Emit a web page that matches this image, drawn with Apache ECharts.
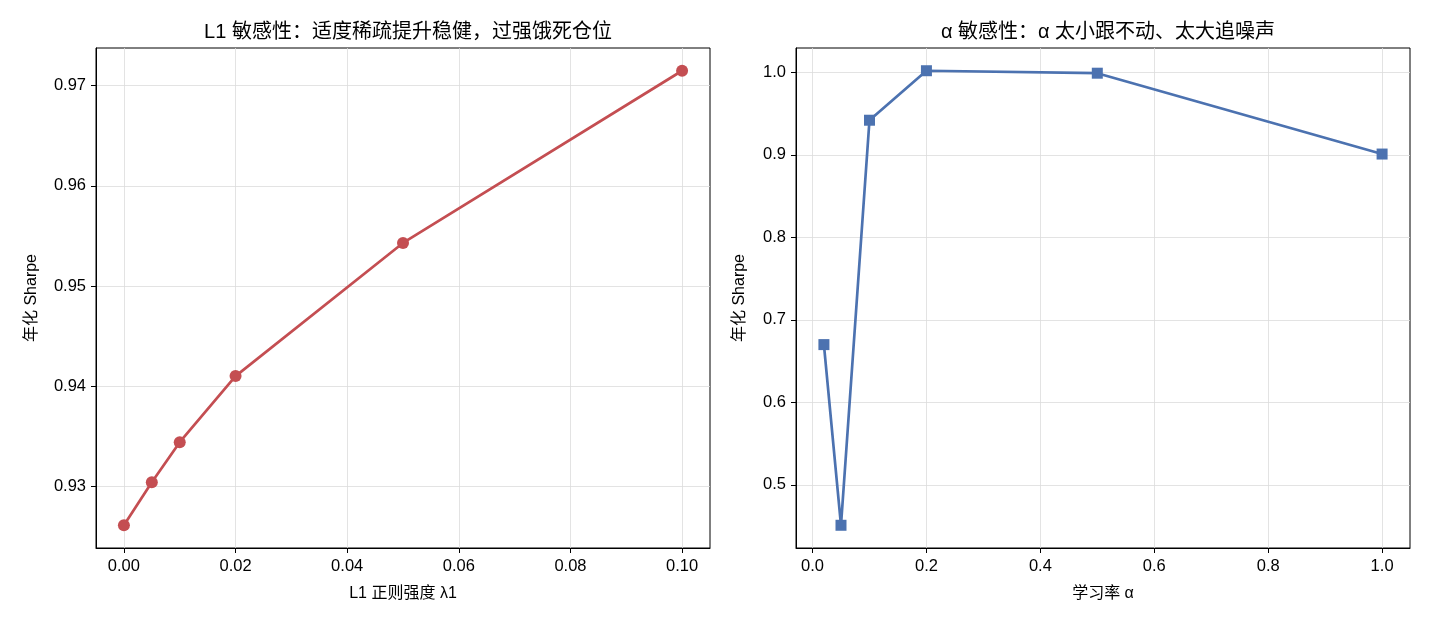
<!DOCTYPE html>
<html>
<head>
<meta charset="utf-8">
<script src="https://cdn.jsdelivr.net/npm/echarts@6/dist/echarts.min.js"></script>
<style>
  html, body { margin: 0; padding: 0; background: #fff; }
  #chart { width: 1430px; height: 624px; }
</style>
</head>
<body>
<div id="chart"></div>
<script>
// L1 sensitivity
const l1X = [0, 0.005, 0.01, 0.02, 0.05, 0.1];
const l1Sharpe = [0.9261, 0.9304, 0.9344, 0.9410, 0.9543, 0.9715];
const l1XTicks = [0, 0.02, 0.04, 0.06, 0.08, 0.10];
const l1YTicks = [0.93, 0.94, 0.95, 0.96, 0.97];

// alpha sensitivity
const alphaX = [0.02, 0.05, 0.1, 0.2, 0.5, 1.0];
const alphaSharpe = [0.670, 0.451, 0.942, 1.002, 0.999, 0.901];
const alphaXTicks = [0, 0.2, 0.4, 0.6, 0.8, 1.0];
const alphaYTicks = [0.5, 0.6, 0.7, 0.8, 0.9, 1.0];

const titles = ['L1 敏感性：适度稀疏提升稳健，过强饿死仓位', 'α 敏感性：α 太小跟不动、太大追噪声'];
const xNames = ['L1 正则强度 λ1', '学习率 α'];
const yName = '年化 Sharpe';

const FONT = '"Liberation Sans", "Noto Sans CJK SC", sans-serif';

// matplotlib-style 5% padding
const pad = (arr) => {
  const lo = Math.min(...arr), hi = Math.max(...arr), d = (hi - lo) * 0.05;
  return [lo - d, hi + d];
};

function xAxis(idx, data, ticks, digits) {
  const [min, max] = pad(data);
  return {
    type: 'value', gridIndex: idx, min, max,
    name: xNames[idx], nameLocation: 'middle', nameGap: 38,
    nameTextStyle: { color: '#000', fontSize: 16, fontFamily: FONT },
    axisLine: { show: true, onZero: false, lineStyle: { color: '#000', width: 1 } },
    axisTick: { show: true, customValues: ticks, length: 5, lineStyle: { color: '#000' } },
    axisLabel: { customValues: ticks, color: '#000', fontSize: 16.5, fontFamily: FONT, margin: 10,
      formatter: v => v.toFixed(digits) },
    splitLine: { show: true, lineStyle: { color: '#dcdcdc', width: 0.8 } }
  };
}

function yAxis(idx, data, ticks, digits, gap) {
  const [min, max] = pad(data);
  return {
    type: 'value', gridIndex: idx, min, max,
    name: yName, nameLocation: 'middle', nameGap: gap, nameRotate: 90,
    nameTextStyle: { color: '#000', fontSize: 16, fontFamily: FONT },
    axisLine: { show: true, onZero: false, lineStyle: { color: '#000', width: 1 } },
    axisTick: { show: true, customValues: ticks, length: 5, lineStyle: { color: '#000' } },
    axisLabel: { customValues: ticks, color: '#000', fontSize: 16.5, fontFamily: FONT, margin: 10,
      formatter: v => v.toFixed(digits) },
    splitLine: { show: true, lineStyle: { color: '#dcdcdc', width: 0.8 } }
  };
}

const chart = echarts.init(document.getElementById('chart'), null, { renderer: 'canvas' });
chart.setOption({
  backgroundColor: '#fff',
  animation: false,
  title: [
    { text: titles[0], left: 403, top: 17, textAlign: 'center',
      textStyle: { fontSize: 20, fontWeight: 'normal', color: '#000', fontFamily: FONT } },
    { text: titles[1], left: 1103, top: 17, textAlign: 'center',
      textStyle: { fontSize: 20, fontWeight: 'normal', color: '#000', fontFamily: FONT } }
  ],
  grid: [
    { left: 96, top: 48, width: 614, height: 500, show: true, borderColor: '#000', borderWidth: 1, backgroundColor: 'transparent' },
    { left: 796, top: 48, width: 614, height: 500, show: true, borderColor: '#000', borderWidth: 1, backgroundColor: 'transparent' }
  ],
  xAxis: [
    xAxis(0, l1X, l1XTicks, 2),
    xAxis(1, alphaX, alphaXTicks, 1)
  ],
  yAxis: [
    yAxis(0, l1Sharpe, l1YTicks, 2, 56),
    yAxis(1, alphaSharpe, alphaYTicks, 1, 48)
  ],
  series: [
    {
      type: 'line', xAxisIndex: 0, yAxisIndex: 0,
      data: l1X.map((x, i) => [x, l1Sharpe[i]]),
      symbol: 'circle', symbolSize: 12,
      lineStyle: { color: '#c44e52', width: 2.7 },
      itemStyle: { color: '#c44e52' }
    },
    {
      type: 'line', xAxisIndex: 1, yAxisIndex: 1,
      data: alphaX.map((x, i) => [x, alphaSharpe[i]]),
      symbol: 'rect', symbolSize: 11,
      lineStyle: { color: '#4c72b0', width: 2.7 },
      itemStyle: { color: '#4c72b0' }
    }
  ]
});
</script>
</body>
</html>
